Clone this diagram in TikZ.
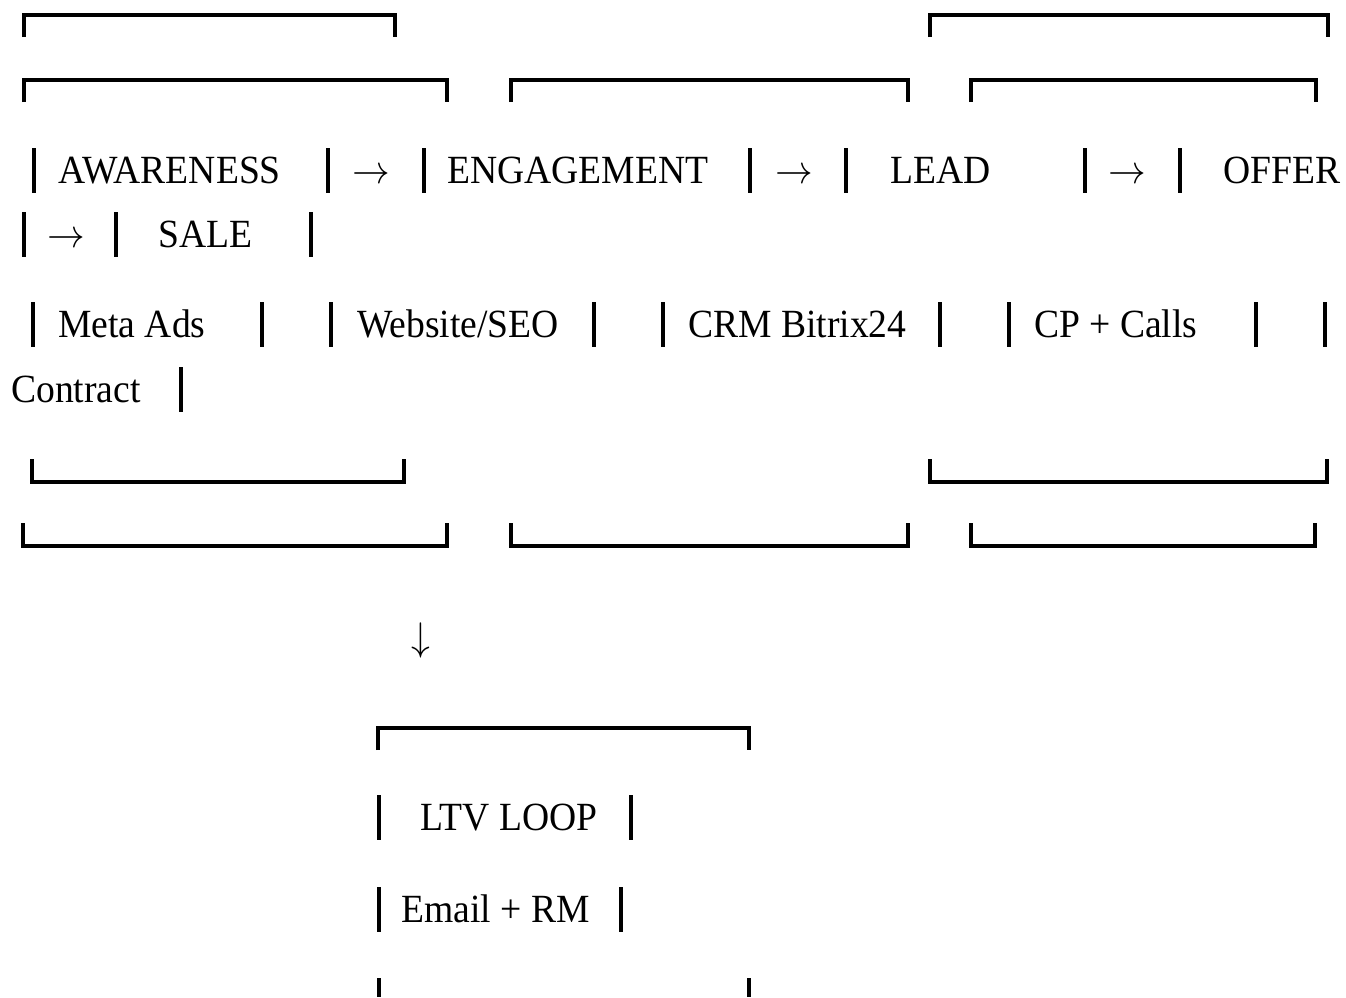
\documentclass[tikz,border=0pt]{standalone}
\usepackage{fontspec}
\setmainfont{Liberation Serif}

% text is set a little narrower, as in the picture
\newcommand{\sq}[1]{\scalebox{0.94}[1]{#1}}
% an arrow glyph at the size of the text
\newcommand{\arr}[1]{\scalebox{3.76}[4]{\normalsize$#1$}}
% bracket ends: left x, right x, y of the long stroke
\newcommand{\topbrk}[3]{\draw[brk] (#1,#3+22) |- (#2,#3) -- (#2,#3+22);}
\newcommand{\botbrk}[3]{\draw[brk] (#1,#3-23) |- (#2,#3) -- (#2,#3-23);}
% the vertical strokes of one text row: baseline, list of x
\newcommand{\rowbars}[2]{\foreach \bx in {#2} {\draw[bar] (\bx,#1-35) -- (\bx,#1+10);}}

\tikzset{
  brk/.style={line width=3.2pt},
  bar/.style={line width=3.1pt},
  lbl/.style={anchor=base west, inner sep=0pt, font=\fontsize{40}{48}\selectfont}
}

\begin{document}
\begin{tikzpicture}[x=1pt, y=-1pt]
  \useasboundingbox (0,0) rectangle (1346,997);

  % upper brackets
  \topbrk{24}{395}{15}
  \topbrk{930}{1328}{15}
  \topbrk{24}{447}{80}
  \topbrk{511}{908}{80}
  \topbrk{971}{1316}{80}

  % stage row
  \rowbars{183}{34, 328, 424, 750, 846, 1085, 1180}
  \node[lbl] (aware) at (58, 183) {\sq{AWARENESS}};
  \node[lbl] (arr1) at (352, 183) {\arr{\rightarrow}};
  \node[lbl] (engage) at (447, 183) {\sq{ENGAGEMENT}};
  \node[lbl] (arr2) at (775, 183) {\arr{\rightarrow}};
  \node[lbl] (lead) at (890, 183) {\sq{LEAD}};
  \node[lbl] (arr3) at (1108, 183) {\arr{\rightarrow}};
  \node[lbl] (offer) at (1223, 183) {\sq{OFFER}};

  \rowbars{247}{24, 116, 311}
  \node[lbl] (arr4) at (47, 247) {\arr{\rightarrow}};
  \node[lbl] (sale) at (158, 247) {\sq{SALE}};

  % tool row
  \rowbars{337}{33, 262, 331, 594, 663, 940, 1009, 1256, 1325}
  \node[lbl] (meta) at (58, 337) {\sq{Meta Ads}};
  \node[lbl] (site) at (357, 337) {\sq{Website/SEO}};
  \node[lbl] (crm) at (688, 337) {\sq{CRM Bitrix24}};
  \node[lbl] (calls) at (1034, 337) {\sq{CP + Calls}};

  \rowbars{402}{181}
  \node[lbl] (contract) at (11, 402) {\sq{Contract}};

  % lower brackets
  \botbrk{32}{404}{482}
  \botbrk{930}{1327}{482}
  \botbrk{23}{447}{546}
  \botbrk{511}{908}{546}
  \botbrk{971}{1315}{546}

  \node[lbl, anchor=base] (down) at (421, 650) {\arr{\downarrow}};

  % loop box
  \topbrk{378}{749}{728}
  \rowbars{830}{379, 631}
  \node[lbl] (ltv) at (420, 830) {\sq{LTV LOOP}};
  \rowbars{922}{379, 621}
  \node[lbl] (email) at (401, 922) {\sq{Email + RM}};
  \draw[bar] (379,978) -- (379,997);
  \draw[bar] (749,978) -- (749,997);
\end{tikzpicture}
\end{document}
